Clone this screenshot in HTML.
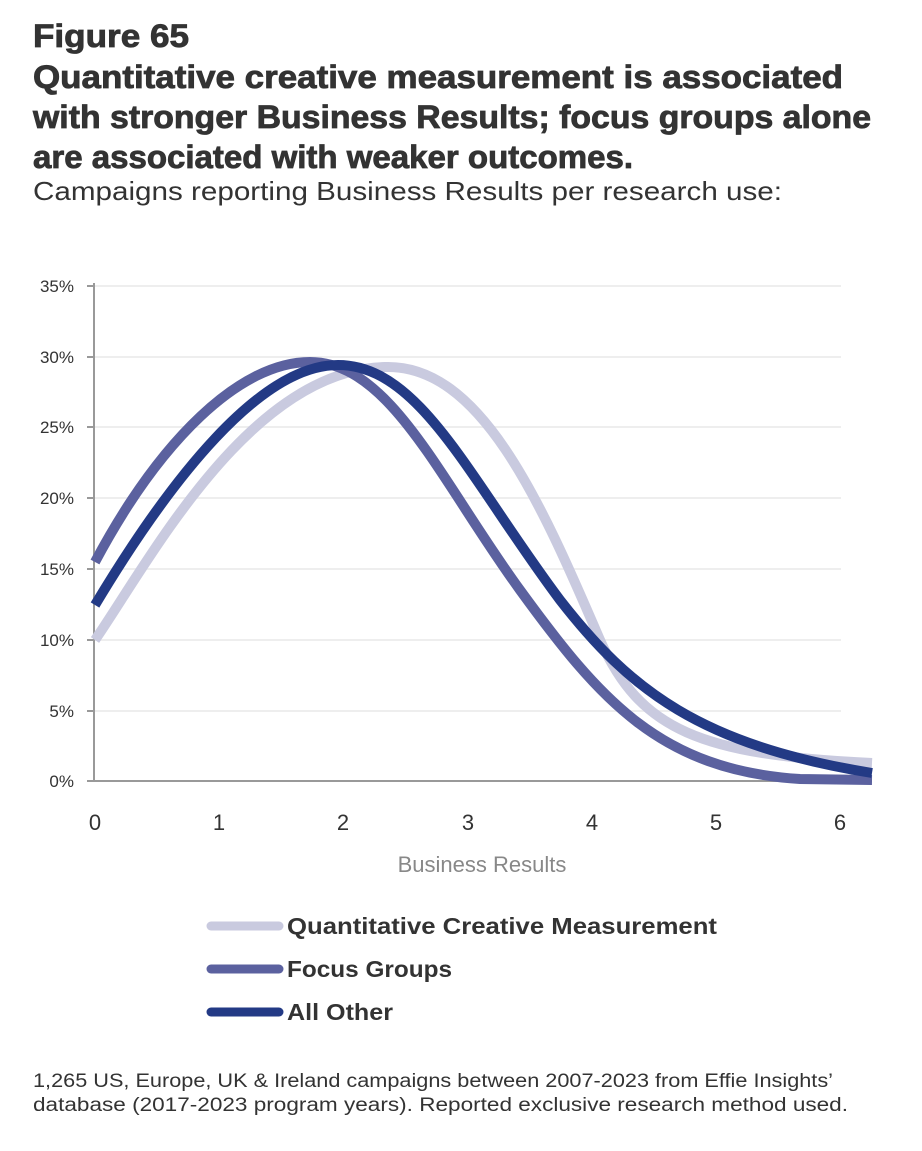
<!DOCTYPE html>
<html><head><meta charset="utf-8"><style>
body{margin:0;background:#fff;width:922px;height:1146px;overflow:hidden;font-family:"Liberation Sans",sans-serif;color:#333;}
</style></head><body>
<svg width="922" height="1146" xmlns="http://www.w3.org/2000/svg" font-family="Liberation Sans, sans-serif">
<g font-weight="bold" font-size="32" fill="#333" stroke="#333" stroke-width="0.8" lengthAdjust="spacingAndGlyphs">
<text x="33" y="47" textLength="156" lengthAdjust="spacingAndGlyphs">Figure 65</text>
<text x="33" y="88" textLength="810" lengthAdjust="spacingAndGlyphs">Quantitative creative measurement is associated</text>
<text x="33" y="128" textLength="838" lengthAdjust="spacingAndGlyphs">with stronger Business Results; focus groups alone</text>
<text x="33" y="168" textLength="600" lengthAdjust="spacingAndGlyphs">are associated with weaker outcomes.</text>
</g>
<text x="33" y="200" font-size="26" fill="#333" textLength="749" lengthAdjust="spacingAndGlyphs">Campaigns reporting Business Results per research use:</text>
<g stroke="#eeeeee" stroke-width="2">
<line x1="95" y1="286" x2="841" y2="286"/><line x1="95" y1="357" x2="841" y2="357"/>
<line x1="95" y1="427" x2="841" y2="427"/><line x1="95" y1="498" x2="841" y2="498"/>
<line x1="95" y1="569" x2="841" y2="569"/><line x1="95" y1="640" x2="841" y2="640"/>
<line x1="95" y1="711" x2="841" y2="711"/>
</g>
<g stroke="#999" stroke-width="2">
<line x1="94" y1="283" x2="94" y2="782"/><line x1="94" y1="781" x2="872" y2="781"/>
<line x1="87" y1="286" x2="94" y2="286"/><line x1="87" y1="357" x2="94" y2="357"/>
<line x1="87" y1="427" x2="94" y2="427"/><line x1="87" y1="498" x2="94" y2="498"/>
<line x1="87" y1="569" x2="94" y2="569"/><line x1="87" y1="640" x2="94" y2="640"/>
<line x1="87" y1="711" x2="94" y2="711"/><line x1="87" y1="781" x2="94" y2="781"/>
</g>
<g font-size="17" fill="#333" text-anchor="end">
<text x="74" y="292">35%</text><text x="74" y="363">30%</text><text x="74" y="433">25%</text>
<text x="74" y="504">20%</text><text x="74" y="575">15%</text><text x="74" y="646">10%</text>
<text x="74" y="717">5%</text><text x="74" y="787">0%</text>
</g>
<g font-size="22" fill="#333" text-anchor="middle">
<text x="95" y="830">0</text><text x="219" y="830">1</text><text x="343" y="830">2</text>
<text x="468" y="830">3</text><text x="592" y="830">4</text><text x="716" y="830">5</text><text x="840" y="830">6</text>
</g>
<text x="482" y="872" font-size="22" fill="#888" text-anchor="middle">Business Results</text>
<g fill="none" stroke-width="10">
<path stroke="#c9cadf" d="M95,640 C150,560 250,370 385,367 C480,364 540,500 600,640 C640,730 700,755 872,763"/>
<path stroke="#5b619f" d="M95,562 C160,440 240,362 310,362 C390,362 440,480 520,590 C600,700 660,770 800,779 L872,780"/>
<path stroke="#233a85" d="M95,605 C170,480 260,365 338,365 C420,365 470,480 560,600 C630,690 700,745 872,773"/>
</g>
<g stroke-width="9" stroke-linecap="round">
<line x1="211" y1="926" x2="279" y2="926" stroke="#c9cadf"/>
<line x1="211" y1="969" x2="279" y2="969" stroke="#5b619f"/>
<line x1="211" y1="1012" x2="279" y2="1012" stroke="#233a85"/>
</g>
<g font-size="23" font-weight="bold" fill="#333">
<text x="287" y="934" textLength="430" lengthAdjust="spacingAndGlyphs">Quantitative Creative Measurement</text>
<text x="287" y="977" textLength="165" lengthAdjust="spacingAndGlyphs">Focus Groups</text>
<text x="287" y="1020" textLength="106" lengthAdjust="spacingAndGlyphs">All Other</text>
</g>
<g font-size="19" fill="#333">
<text x="33" y="1087" textLength="800" lengthAdjust="spacingAndGlyphs">1,265 US, Europe, UK &amp; Ireland campaigns between 2007-2023 from Effie Insights’</text>
<text x="33" y="1111" textLength="815" lengthAdjust="spacingAndGlyphs">database  (2017-2023 program years). Reported exclusive research method used.</text>
</g>
</svg>
</body></html>
